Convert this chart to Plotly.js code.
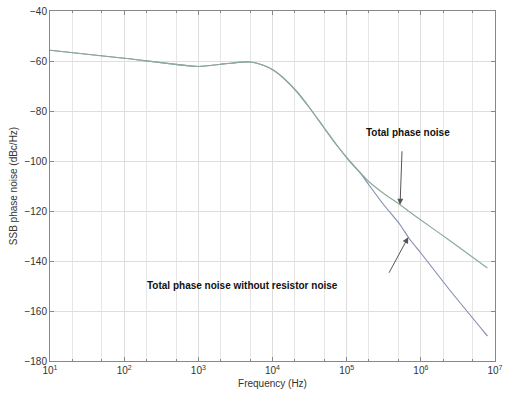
<!DOCTYPE html>
<html>
<head>
<meta charset="utf-8">
<script src="https://cdn.plot.ly/plotly-3.0.1.min.js"></script>
<style>html,body{margin:0;padding:0;background:#fff;}#chart{width:506px;height:398px;}</style>
</head>
<body>
<div id="chart"></div>
<script>
// Frequency (Hz)
var freqShared = [10, 100, 1000, 2000, 2690, 5010, 7500, 10200, 13800, 20900, 31600, 47900, 72400, 110000, 151000];
var noiseShared = [-55.7, -58.9, -62.2, -61.3, -60.9, -60.4, -61.7, -63.6, -66.6, -72, -78.7, -86.1, -93.4, -100.1, -104.6];

var freqTail = [200000, 316000, 525000, 708000, 1000000, 2450000, 7900000];
var totalTail = [-108.3, -113, -117.5, -120.4, -123.6, -131.8, -142.8];
var noResTail = [-109.6, -117.5, -125.5, -131.3, -136.8, -151.6, -170];

var xTickVals = [10, 100, 1000, 10000, 100000, 1000000, 10000000];
var xTickText = ['10<sup>1</sup>', '10<sup>2</sup>', '10<sup>3</sup>', '10<sup>4</sup>', '10<sup>5</sup>', '10<sup>6</sup>', '10<sup>7</sup>'];
var yTickVals = [-40, -60, -80, -100, -120, -140, -160, -180];

var labelTotal = 'Total phase noise';
var labelNoRes = 'Total phase noise without resistor noise';

var font = 'Liberation Sans, Arial, sans-serif';

var traces = [
  {x: freqShared.concat(freqTail), y: noiseShared.concat(noResTail), mode: 'lines',
   line: {color: '#8a90b2', width: 1.2, shape: 'spline', smoothing: 0.6}, name: labelNoRes},
  {x: freqShared.concat(freqTail), y: noiseShared.concat(totalTail), mode: 'lines',
   line: {color: '#8cab9a', width: 1.2, shape: 'spline', smoothing: 0.6}, name: labelTotal}
];

var layout = {
  width: 506, height: 398,
  margin: {l: 50, r: 11, t: 11, b: 37},
  paper_bgcolor: '#fff', plot_bgcolor: '#fff',
  showlegend: false,
  font: {family: font, size: 10, color: '#333'},
  xaxis: {
    type: 'log', range: [1, 7],
    tickvals: xTickVals, ticktext: xTickText,
    showgrid: true, gridcolor: '#dedede', gridwidth: 1,
    minor: {showgrid: true, gridcolor: '#e6e6e6', ticks: 'inside', ticklen: 2, tickcolor: '#888'},
    ticks: 'inside', ticklen: 4, tickcolor: '#888',
    showline: true, linecolor: '#888', linewidth: 1, mirror: 'ticks',
    zeroline: false,
    tickfont: {family: font, size: 10, color: '#333'},
    title: {text: 'Frequency (Hz)', font: {family: font, size: 10, color: '#333'}, standoff: 4}
  },
  yaxis: {
    range: [-180, -40],
    tickvals: yTickVals,
    showgrid: true, gridcolor: '#dedede', gridwidth: 1,
    ticks: 'inside', ticklen: 4, tickcolor: '#888',
    showline: true, linecolor: '#888', linewidth: 1, mirror: 'ticks',
    zeroline: false,
    tickfont: {family: font, size: 10, color: '#333'},
    title: {text: 'SSB phase noise (dBc/Hz)', font: {family: font, size: 10, color: '#333'}, standoff: 4}
  },
  annotations: [
    {x: 5.825, y: -88.6, xref: 'x', yref: 'y', text: '<b>' + labelTotal + '</b>', showarrow: false,
     font: {family: font, size: 10, color: '#111'}},
    {x: 3.59, y: -149.6, xref: 'x', yref: 'y', text: '<b>' + labelNoRes + '</b>', showarrow: false,
     font: {family: font, size: 10, color: '#111'}},
    {x: 5.72, y: -117.5, xref: 'x', yref: 'y', text: '', showarrow: true,
     ax: 2, ay: -55, arrowhead: 2, arrowsize: 1.2, arrowwidth: 1, arrowcolor: '#555', standoff: 0},
    {x: 5.83, y: -130.5, xref: 'x', yref: 'y', text: '', showarrow: true,
     ax: -20, ay: 37, arrowhead: 2, arrowsize: 1.2, arrowwidth: 1, arrowcolor: '#555', standoff: 0}
  ]
};

Plotly.newPlot('chart', traces, layout, {displayModeBar: false, staticPlot: true});
</script>
</body>
</html>
